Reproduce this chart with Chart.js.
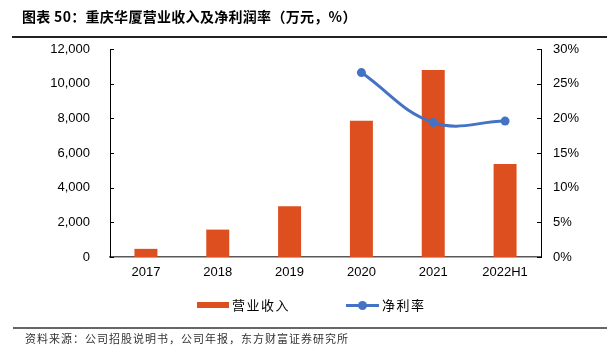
<!DOCTYPE html>
<html>
<head>
<meta charset="utf-8">
<script src="https://cdn.jsdelivr.net/npm/chart.js@4"></script>
<style>
  html, body { margin: 0; padding: 0; background: #fff; }
  #wrap { position: relative; width: 607px; height: 356px; overflow: hidden; }
  canvas { position: absolute; left: 0; top: 0; }
  .txt { position: absolute; white-space: nowrap; font-family: "Noto Sans CJK SC", sans-serif; color: #000; }
  #title { left: 22px; top: 6px; font-size: 14px; font-weight: bold; line-height: 20px; letter-spacing: 0.3px; }
  #titleLine { position: absolute; left: 12px; top: 36px; width: 595px; height: 2px; background: #222; }
  #footLine { position: absolute; left: 13px; top: 327px; width: 594px; height: 2px; background: #666; }
  #foot { left: 25px; top: 330px; font-size: 11px; line-height: 16px; letter-spacing: 1px; color: #333; }
  .sw { position: absolute; }
  .lg { font-size: 13px; line-height: 18px; top: 296px; letter-spacing: 1.5px; }
</style>
</head>
<body>
<div id="wrap">
  <canvas id="c" width="607" height="356"></canvas>
  <div class="txt" id="title">图表 50：重庆华厦营业收入及净利润率（万元，%）</div>
  <div id="titleLine"></div>
  <div id="legBar" class="sw" style="left:197px;top:302px;width:32px;height:6px;"></div>
  <div class="txt lg" style="left:232px;">营业收入</div>
  <div id="legLine" class="sw" style="left:346px;top:303.5px;width:33px;height:3px;"></div>
  <div id="legDot" class="sw" style="left:357.5px;top:300.5px;width:9px;height:9px;border-radius:50%;"></div>
  <div class="txt lg" style="left:382px;">净利率</div>
  <div id="footLine"></div>
  <div class="txt" id="foot">资料来源：公司招股说明书，公司年报，东方财富证券研究所</div>
</div>
<script>
const categories = ['2017', '2018', '2019', '2020', '2021', '2022H1'];
const revenue = [470, 1580, 2930, 7860, 10790, 5360];
const netMargin = [null, null, null, 26.6, 19.4, 19.6];
const seriesNames = ['营业收入', '净利率'];
const revenueAxis = { min: 0, max: 12000, step: 2000 };
const marginAxis = { min: 0, max: 30, step: 5 };

const barColor = '#DE4F1F';
const lineColor = '#4472C4';

document.getElementById('legBar').style.background = barColor;
document.getElementById('legLine').style.background = lineColor;
document.getElementById('legDot').style.background = lineColor;

const innerTicks = {
  id: 'innerTicks',
  afterDraw(chart) {
    const ctx = chart.ctx;
    ctx.save();
    ctx.strokeStyle = '#000';
    ctx.lineWidth = 1;
    const yl = chart.scales.y, yr = chart.scales.y1;
    yl.ticks.forEach((t, i) => {
      const py = Math.round(yl.getPixelForTick(i)) + 0.5;
      ctx.beginPath(); ctx.moveTo(yl.right, py); ctx.lineTo(yl.right + 4, py); ctx.stroke();
    });
    yr.ticks.forEach((t, i) => {
      const py = Math.round(yr.getPixelForTick(i)) + 0.5;
      ctx.beginPath(); ctx.moveTo(yr.left - 4, py); ctx.lineTo(yr.left, py); ctx.stroke();
    });
    ctx.restore();
  }
};

const tickFont = { family: '"Liberation Sans", Arial, sans-serif', size: 13 };

new Chart(document.getElementById('c'), {
  data: {
    labels: categories,
    datasets: [
      {
        type: 'line',
        label: seriesNames[1],
        data: netMargin,
        yAxisID: 'y1',
        borderColor: lineColor,
        backgroundColor: lineColor,
        borderWidth: 3,
        pointRadius: 4.5,
        pointBackgroundColor: lineColor,
        pointBorderWidth: 0,
        tension: 0.4,
        order: 0
      },
      {
        type: 'bar',
        label: seriesNames[0],
        data: revenue,
        yAxisID: 'y',
        backgroundColor: barColor,
        borderColor: '#EC8E6C',
        borderWidth: 0,
        categoryPercentage: 1,
        barPercentage: 0.32,
        order: 1
      }
    ]
  },
  options: {
    responsive: false,
    devicePixelRatio: 1,
    animation: false,
    layout: { padding: { top: 49, left: 0, right: 0, bottom: 0 } },
    plugins: { legend: { display: false }, title: { display: false }, tooltip: { enabled: false } },
    scales: {
      x: {
        offset: true,
        grid: { display: false, drawTicks: false },
        border: { display: true, color: '#595959', width: 1.5 },
        ticks: { font: tickFont, color: '#000', padding: 8, maxRotation: 0 },
        afterFit(s) { s.height = 99; }
      },
      y: {
        position: 'left',
        min: revenueAxis.min, max: revenueAxis.max,
        grid: { display: false, drawTicks: false },
        border: { display: true, color: '#000', width: 1 },
        ticks: {
          stepSize: revenueAxis.step, font: tickFont, color: '#000', padding: 20,
          callback: v => v.toLocaleString('en-US')
        },
        afterFit(s) { s.width = 110; }
      },
      y1: {
        position: 'right',
        min: marginAxis.min, max: marginAxis.max,
        grid: { display: false, drawTicks: false },
        border: { display: true, color: '#000', width: 1 },
        ticks: {
          stepSize: marginAxis.step, font: tickFont, color: '#000', padding: 12,
          callback: v => v + '%'
        },
        afterFit(s) { s.width = 66; }
      }
    }
  },
  plugins: [innerTicks]
});
</script>
</body>
</html>
